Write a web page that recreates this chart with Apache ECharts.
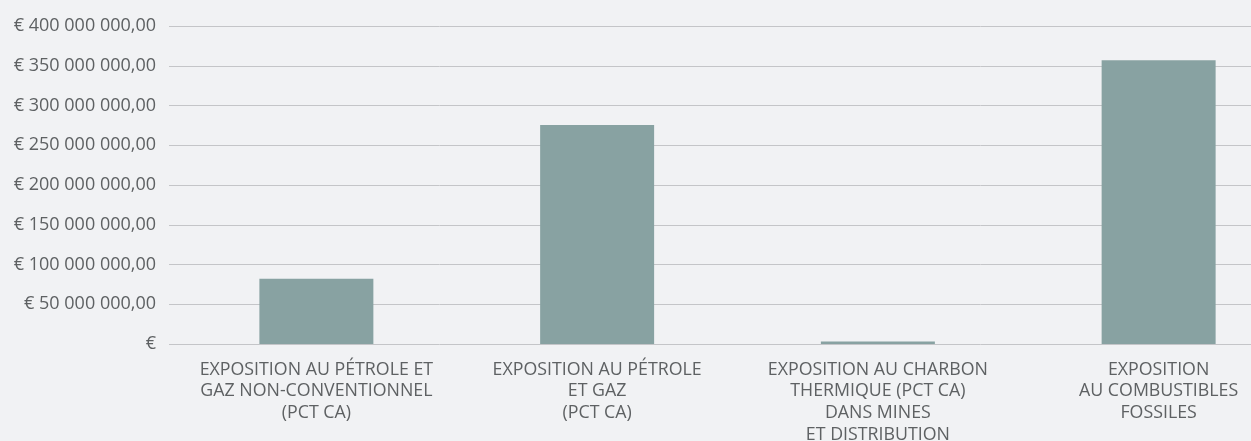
<!DOCTYPE html>
<html>
<head>
<meta charset="utf-8">
<script src="https://cdn.jsdelivr.net/npm/echarts@6/dist/echarts.min.js"></script>
<style>
  html, body { margin: 0; padding: 0; background: #f1f2f4; }
  #chart { width: 1251px; height: 441px; }
</style>
</head>
<body>
<div id="chart"></div>
<script>
// Exposure categories (x axis)
const categories = [
  'EXPOSITION AU PÉTROLE ET\nGAZ NON-CONVENTIONNEL\n(PCT CA)',
  'EXPOSITION AU PÉTROLE\nET GAZ\n(PCT CA)',
  'EXPOSITION AU CHARBON\nTHERMIQUE (PCT CA)\nDANS MINES\nET DISTRIBUTION',
  'EXPOSITION\nAU COMBUSTIBLES\nFOSSILES'
];
// Exposure amounts in euros
const values = [82000000, 275500000, 3000000, 357000000];
// Value axis range
const yMin = 0;
const yMax = 400000000;
const yStep = 50000000;

function euro(v) {
  if (v === 0) return '€';
  const s = Math.round(v).toString().replace(/\B(?=(\d{3})+(?!\d))/g, ' ');
  return '€ ' + s + ',00';
}

const FONT = 'Open Sans';
const TEXT = '#5e6163';

const chart = echarts.init(document.getElementById('chart'), null, { renderer: 'canvas' });
chart.setOption({
  backgroundColor: '#f1f2f4',
  animation: false,
  grid: [
    { left: 169, right: 0, top: 26, bottom: 97, outerBoundsMode: 'none' },
    { left: 176, width: 1123, top: 26, bottom: 97, outerBoundsMode: 'none' }
  ],
  xAxis: [
    { gridIndex: 0, type: 'category', data: categories, show: false },
    {
      gridIndex: 1, type: 'category', data: categories,
      axisLine: { show: false }, axisTick: { show: false },
      axisLabel: {
        interval: 0, margin: 15, color: TEXT, fontFamily: FONT, fontSize: 17.8,
        lineHeight: 21.6, align: 'center'
      }
    }
  ],
  yAxis: [
    {
      gridIndex: 0, type: 'value', min: yMin, max: yMax, interval: yStep,
      axisLine: { show: false }, axisTick: { show: false },
      splitLine: { lineStyle: { color: '#c4c5c8', width: 1 } },
      axisLabel: { margin: 13, color: TEXT, fontFamily: FONT, fontSize: 18, formatter: euro }
    },
    {
      gridIndex: 1, type: 'value', min: yMin, max: yMax, interval: yStep,
      show: false, splitLine: { show: false }
    }
  ],
  series: [{
    type: 'bar', xAxisIndex: 1, yAxisIndex: 1,
    data: values, barWidth: '40.6%',
    itemStyle: { color: '#88a2a2' }
  }]
});
</script>
</body>
</html>
